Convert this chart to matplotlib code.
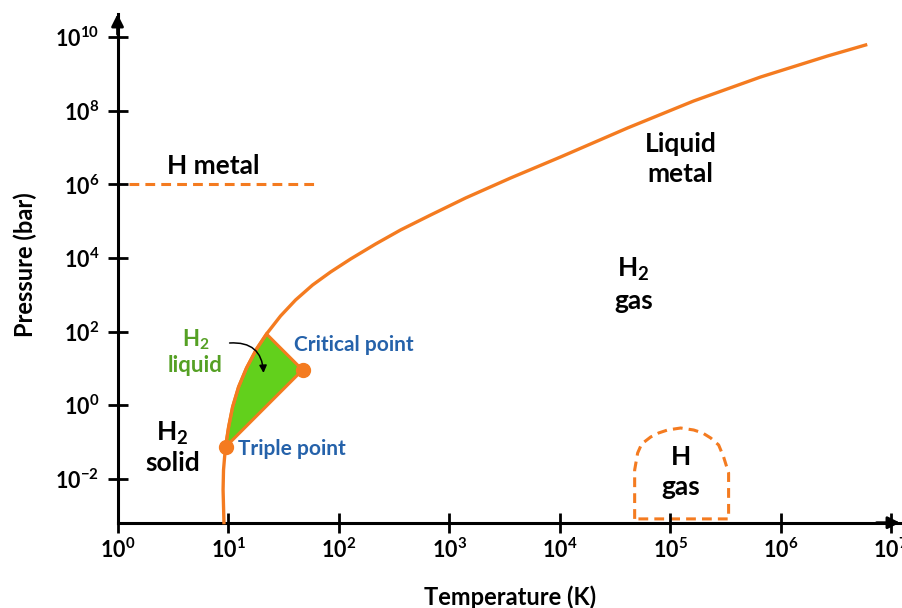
import numpy as np
import matplotlib
matplotlib.use("Agg")
import matplotlib.pyplot as plt

plt.rcParams['font.family'] = 'Lato'
plt.rcParams['mathtext.fontset'] = 'custom'
plt.rcParams['mathtext.rm'] = 'Lato'
plt.rcParams['mathtext.bf'] = 'Lato:bold'
plt.rcParams['axes.unicode_minus'] = False

ORANGE = '#F47B20'
GREEN_FILL = '#62D01C'
GREEN_TXT = '#55A024'
BLUE = '#2562AA'

# everything below is log10 of the value
xtick_exp = [0, 1, 2, 3, 4, 5, 6, 7]
ytick_exp = [-2, 0, 2, 4, 6, 8, 10]

# solid orange boundary (solid/gas, solid/liquid, molecular/metal)
main_logT = [0.963, 0.955, 0.959, 0.968, 0.977, 1.005, 1.041, 1.095, 1.167, 1.258,
             1.348, 1.475, 1.611, 1.765, 1.928, 2.109, 2.335, 2.561, 2.833, 3.149,
             3.557, 4.009, 4.615, 5.213, 5.819, 6.425, 6.769]
main_logP = [-3.19, -2.30, -1.76, -1.435, -1.136, -0.592, -0.049, 0.495, 1.011, 1.527,
             1.935, 2.424, 2.859, 3.266, 3.620, 3.973, 4.380, 4.761, 5.168, 5.630,
             6.174, 6.745, 7.533, 8.266, 8.918, 9.489, 9.788]
i_triple = 4
i_top = 10

triple_logT, triple_logP = 0.977, -1.136
crit_logT, crit_logP = 1.674, 0.957

# H metal dashed line
hmetal_logT = [0.10, 1.79]
hmetal_logP = [6.0, 6.0]

# H gas dashed dome
dome_logT = [4.679, 4.679, 4.706, 4.742, 4.824, 4.896, 4.977, 5.095, 5.213, 5.294,
             5.367, 5.439, 5.484, 5.529, 5.529, 4.679]
dome_logP = [-3.09, -1.761, -1.299, -1.054, -0.864, -0.755, -0.674, -0.620, -0.674,
             -0.755, -0.891, -1.082, -1.408, -1.842, -3.09, -3.09]

fig = plt.figure(figsize=(9.02, 6.08), dpi=100)
ax = fig.add_axes([0.1303, 0.1403, 0.8675, 0.8367])
ax.set_xscale('log')
ax.set_yscale('log')
ax.set_xlim(1, 10 ** 7.08)
ax.set_ylim(10 ** -3.193, 10 ** 10.63)

p = lambda a: 10.0 ** np.asarray(a)

# liquid region
liq_T = main_logT[i_triple:i_top + 1] + [crit_logT]
liq_P = main_logP[i_triple:i_top + 1] + [crit_logP]
ax.fill(p(liq_T), p(liq_P), color=GREEN_FILL, ec=ORANGE, lw=2.2, zorder=2)

ax.plot(p(main_logT), p(main_logP), color=ORANGE, lw=2.4, zorder=3, clip_on=False,
        solid_joinstyle='round')
ax.plot(p(hmetal_logT), p(hmetal_logP), color=ORANGE, lw=2.2, dashes=(3.2, 2.0))
ax.plot(p(dome_logT), p(dome_logP), color=ORANGE, lw=2.2, dashes=(3.2, 2.0), zorder=1)
ax.plot(p([triple_logT, crit_logT]), p([triple_logP, crit_logP]), 'o', color=ORANGE,
        ms=10, zorder=4)

ax.annotate('', xy=(p(1.321), p(0.875)), xytext=(p(1.014), p(1.69)),
            arrowprops=dict(arrowstyle='-|>', color='black', lw=1.1,
                            connectionstyle='arc3,rad=-0.5', mutation_scale=11,
                            shrinkA=0, shrinkB=0))

# axes look
for s in ['top', 'right']:
    ax.spines[s].set_visible(False)
for s in ['left', 'bottom']:
    ax.spines[s].set_linewidth(2.2)
ax.minorticks_off()
ax.set_xticks(p(xtick_exp))
ax.set_xticklabels([r'$\mathbf{10^{%d}}$' % e for e in xtick_exp])
ax.set_yticks(p(ytick_exp))
ax.set_yticklabels([r'$\mathbf{10^{%d}}$' % e for e in ytick_exp])
ax.tick_params(direction='inout', length=14, width=2, labelsize=15.5)
ax.tick_params(axis='x', pad=4)
ax.tick_params(axis='y', pad=6)

ax.annotate('', xy=(1.0, 0), xytext=(0.97, 0), xycoords='axes fraction',
            arrowprops=dict(arrowstyle='-|>', color='black', lw=2,
                            mutation_scale=18, shrinkA=0, shrinkB=0))
ax.annotate('', xy=(0, 1.0), xytext=(0, 0.96), xycoords='axes fraction',
            arrowprops=dict(arrowstyle='-|>', color='black', lw=2,
                            mutation_scale=18, shrinkA=0, shrinkB=0))

ax.set_xlabel('Temperature (K)', fontsize=17, fontweight='bold')
ax.xaxis.set_label_coords(0.5016, -0.146)
ax.xaxis.label.set_va('center')
ax.set_ylabel('Pressure (bar)', fontsize=17, fontweight='bold')
ax.yaxis.set_label_coords(-0.118, 0.5066)
ax.yaxis.label.set_va('center')

tk = dict(ha='center', va='center', fontsize=19, fontweight='bold')
ax.text(p(0.869), p(6.5), 'H metal', **tk)
ax.text(p(5.095), p(6.69), 'Liquid\nmetal', linespacing=1.3, **tk)
ax.text(p(4.67), p(3.27), '$\\mathbf{H_2}$\ngas', linespacing=1.3, **tk)
ax.text(p(5.095), p(-1.815), 'H\ngas', linespacing=1.3, **tk)
ax.text(p(0.498), p(-1.136), '$\\mathbf{H_2}$\nsolid', linespacing=1.2, **tk)
ax.text(p(0.706), p(1.446), '$\\mathbf{H_2}$\nliquid', linespacing=1.2, color=GREEN_TXT,
        ha='center', va='center', fontsize=16, fontweight='bold')
ax.text(p(1.593), p(1.636), 'Critical point', color=BLUE, ha='left', va='center',
        fontsize=15, fontweight='bold')
ax.text(p(1.086), p(-1.19), 'Triple point', color=BLUE, ha='left', va='center',
        fontsize=15, fontweight='bold')

fig.savefig('out.png', dpi=100)
